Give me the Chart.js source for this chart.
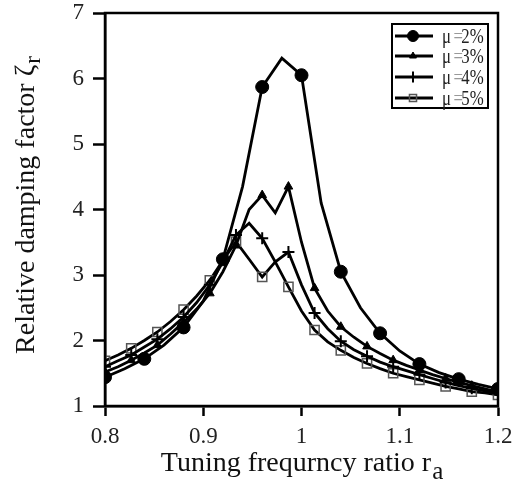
<!DOCTYPE html>
<html lang="en">
<head>
    <meta charset="UTF-8">
    <title>Relative damping factor</title>
    <script src="https://cdn.jsdelivr.net/npm/chart.js"></script>
    <style>
        body { margin: 0; background: #ffffff; }
        canvas { display: block; }
    </style>
</head>
<body>
    <canvas id="myChart" width="516" height="482"></canvas>

    <script>
        // tuning ratio grid for mu = 2% (step 0.02)
        const ratio2 = [0.80, 0.82, 0.84, 0.86, 0.88, 0.90, 0.92, 0.94, 0.96, 0.98, 1.00,
                        1.02, 1.04, 1.06, 1.08, 1.10, 1.12, 1.14, 1.16, 1.18, 1.20];
        const mu2 = [1.44, 1.57, 1.72, 1.93, 2.20, 2.60, 3.24, 4.35, 5.87, 6.31, 6.05,
                     4.10, 3.05, 2.50, 2.11, 1.84, 1.64, 1.51, 1.41, 1.33, 1.26];

        // tuning ratio grid for mu = 3%, 4%, 5%
        const ratio = [0.8000, 0.8133, 0.8267, 0.8400, 0.8533, 0.8667, 0.8800, 0.8933, 0.9067, 0.9200,
                       0.9333, 0.9467, 0.9600, 0.9733, 0.9867, 1.0000, 1.0133, 1.0267, 1.0400, 1.0533,
                       1.0667, 1.0800, 1.0933, 1.1067, 1.1200, 1.1333, 1.1467, 1.1600, 1.1733, 1.1867, 1.2000];
        const mu3 = [1.52, 1.60, 1.70, 1.81, 1.93, 2.10, 2.28, 2.48, 2.72, 3.05,
                     3.45, 4.00, 4.22, 3.95, 4.35, 3.50, 2.80, 2.45, 2.21, 2.05,
                     1.91, 1.80, 1.70, 1.62, 1.55, 1.48, 1.42, 1.36, 1.31, 1.26, 1.21];
        const mu4 = [1.60, 1.69, 1.78, 1.90, 2.02, 2.18, 2.36, 2.58, 2.85, 3.20,
                     3.61, 3.79, 3.56, 3.20, 3.35, 2.85, 2.42, 2.18, 1.99, 1.86,
                     1.76, 1.67, 1.60, 1.54, 1.48, 1.42, 1.36, 1.31, 1.27, 1.23, 1.20];
        const mu5 = [1.69, 1.78, 1.88, 2.00, 2.13, 2.29, 2.47, 2.68, 2.92, 3.22,
                     3.51, 3.24, 2.97, 3.20, 2.82, 2.45, 2.16, 1.98, 1.85, 1.74,
                     1.65, 1.57, 1.50, 1.45, 1.40, 1.35, 1.30, 1.26, 1.22, 1.20, 1.17];

        const seriesNames = ['2%', '3%', '4%', '5%'];
        const xTicks = [0.8, 0.9, 1.0, 1.1, 1.2];
        const xTickLabels = ['0.8', '0.9', '1', '1.1', '1.2'];
        const yTicks = [1, 2, 3, 4, 5, 6, 7];

        const SERIF = '"Liberation Serif", "DejaVu Serif", serif';

        function toPoints(xs, ys) {
            return xs.map((x, i) => ({ x: x, y: ys[i] }));
        }

        // marker on every second point
        const everyOther = r => ctx => (ctx.dataIndex % 2 === 0 ? r : 0);

        const markers = [
            { style: 'circle', radius: 6.5, legendR: 5.5, fill: '#000', stroke: '#000', width: 1 },
            { style: 'triangle', radius: 5, legendR: 4, fill: '#000', stroke: '#000', width: 1 },
            { style: 'cross', radius: 6, legendR: 5.5, fill: '#000', stroke: '#000', width: 2 },
            { style: 'rect', radius: 6.5, legendR: 5, fill: 'rgba(0,0,0,0)', stroke: '#555', width: 1.5 }
        ];

        function makeDataset(i, xs, ys) {
            const m = markers[i];
            return {
                label: seriesNames[i],
                data: toPoints(xs, ys),
                borderColor: '#000',
                borderWidth: 2.8,
                tension: 0,
                fill: false,
                pointStyle: m.style,
                pointRadius: everyOther(m.radius),
                pointHoverRadius: 0,
                pointBackgroundColor: m.fill,
                pointBorderColor: m.stroke,
                pointBorderWidth: m.width
            };
        }

        // no extra room for the end labels, the padding below sets the box
        function noEdgePadding(s) {
            s.paddingTop = 0;
            s.paddingBottom = 0;
            s.paddingLeft = 0;
            s.paddingRight = 0;
        }

        // box round the plot, legend and axis titles
        const decorations = {
            id: 'decorations',
            afterDraw(chart) {
                const ctx = chart.ctx;
                const a = chart.chartArea;
                ctx.save();

                ctx.strokeStyle = '#000';
                ctx.lineWidth = 2.5;
                ctx.strokeRect(a.left, a.top, a.right - a.left, a.bottom - a.top);

                // legend
                const bx = 392, by = 24, bw = 96, bh = 84;
                ctx.fillStyle = '#fff';
                ctx.fillRect(bx, by, bw, bh);
                ctx.lineWidth = 2;
                ctx.strokeRect(bx, by, bw, bh);
                const rows = [36, 56, 77, 98];
                rows.forEach((ry, i) => {
                    const m = markers[i];
                    ctx.beginPath();
                    ctx.moveTo(395, ry);
                    ctx.lineTo(433, ry);
                    ctx.lineWidth = 2.8;
                    ctx.strokeStyle = '#000';
                    ctx.stroke();

                    ctx.fillStyle = m.fill;
                    ctx.strokeStyle = m.stroke;
                    ctx.lineWidth = m.width;
                    Chart.helpers.drawPoint(ctx, {
                        pointStyle: m.style,
                        radius: m.legendR,
                        borderWidth: m.width
                    }, 413, ry);

                    // label text, a little condensed like the original
                    ctx.save();
                    ctx.translate(442, ry + 1);
                    ctx.scale(0.8, 1);
                    ctx.font = '21px ' + SERIF;
                    ctx.textBaseline = 'middle';
                    ctx.textAlign = 'left';
                    let tx = 0;
                    ctx.fillStyle = '#222';
                    ctx.fillText('\u03bc', tx, 0);
                    tx += ctx.measureText('\u03bc').width + 3;
                    ctx.fillStyle = '#999';
                    ctx.fillText('=', tx, 0);
                    tx += ctx.measureText('=').width - 2;
                    ctx.fillStyle = '#222';
                    ctx.fillText(seriesNames[i], tx, 0);
                    ctx.restore();
                });

                // x title with subscript
                ctx.fillStyle = '#111';
                ctx.textBaseline = 'alphabetic';
                ctx.textAlign = 'left';
                ctx.font = '28px ' + SERIF;
                const xMain = 'Tuning frequrncy ratio r';
                const wMain = ctx.measureText(xMain).width;
                ctx.font = '25px ' + SERIF;
                const wSub = ctx.measureText('a').width;
                const sx = (a.left + a.right) / 2 - (wMain + wSub) / 2;
                ctx.font = '28px ' + SERIF;
                ctx.fillText(xMain, sx, 471);
                ctx.font = '25px ' + SERIF;
                ctx.fillText('a', sx + wMain + 1, 479);

                // y title with subscript, rotated
                ctx.translate(34, (a.top + a.bottom) / 2 - 4);
                ctx.rotate(-Math.PI / 2);
                ctx.font = '28px ' + SERIF;
                const yMain = 'Relative damping factor \u03b6';
                const wy = ctx.measureText(yMain).width;
                ctx.font = '23px ' + SERIF;
                const wys = ctx.measureText('r').width;
                const sy = -(wy + wys) / 2;
                ctx.font = '28px ' + SERIF;
                ctx.fillText(yMain, sy, 0);
                ctx.font = '23px ' + SERIF;
                ctx.fillText('r', sy + wy + 1, 6);

                ctx.restore();
            }
        };

        const ctx = document.getElementById('myChart').getContext('2d');
        new Chart(ctx, {
            type: 'line',
            data: {
                datasets: [
                    makeDataset(0, ratio2, mu2),
                    makeDataset(1, ratio, mu3),
                    makeDataset(2, ratio, mu4),
                    makeDataset(3, ratio, mu5)
                ]
            },
            options: {
                responsive: false,
                animation: false,
                events: [],
                layout: { padding: { left: 0, top: 13, right: 18, bottom: 0 } },
                plugins: {
                    legend: { display: false },
                    tooltip: { enabled: false }
                },
                scales: {
                    x: {
                        type: 'linear',
                        min: 0.8,
                        max: 1.2,
                        afterBuildTicks: s => { s.ticks = xTicks.map(v => ({ value: v })); },
                        afterFit: s => { s.height = 76; noEdgePadding(s); },
                        grid: {
                            drawOnChartArea: false,
                            tickLength: 10,
                            tickWidth: 2.5,
                            tickColor: '#000'
                        },
                        border: { color: '#000', width: 2.5 },
                        ticks: {
                            color: '#222',
                            padding: 7,
                            maxRotation: 0,
                            font: { family: SERIF, size: 23 },
                            callback: (v, i) => xTickLabels[i]
                        }
                    },
                    y: {
                        min: 1,
                        max: 7,
                        afterBuildTicks: s => { s.ticks = yTicks.map(v => ({ value: v })); },
                        afterFit: s => { s.width = 105; noEdgePadding(s); },
                        grid: {
                            drawOnChartArea: false,
                            tickLength: 12,
                            tickWidth: 2.5,
                            tickColor: '#000'
                        },
                        border: { color: '#000', width: 2.5 },
                        ticks: {
                            color: '#222',
                            padding: 9,
                            font: { family: SERIF, size: 23 },
                            callback: v => String(v)
                        }
                    }
                }
            },
            plugins: [decorations]
        });
    </script>
</body>
</html>
